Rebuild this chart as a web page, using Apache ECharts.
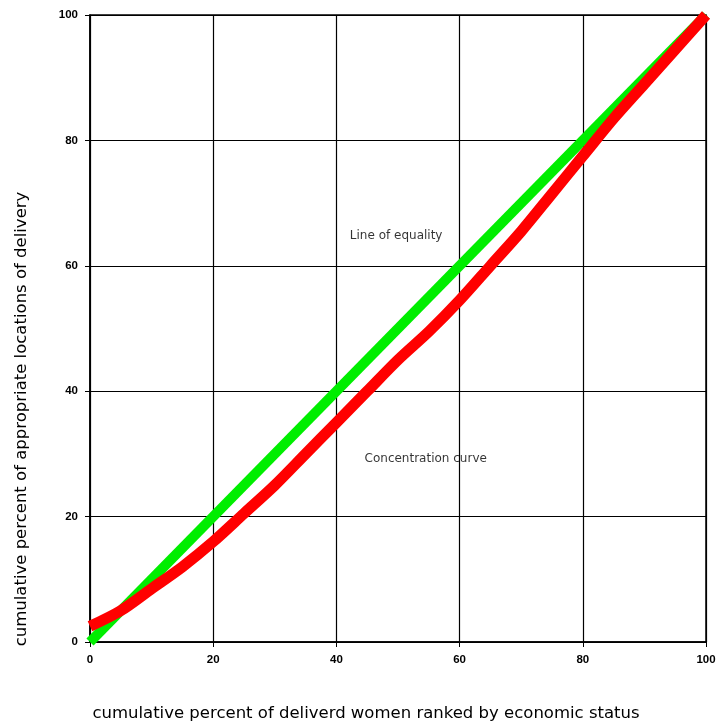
<!DOCTYPE html>
<html><head><meta charset="utf-8">
<script src="https://cdn.jsdelivr.net/npm/echarts@6/dist/echarts.min.js"></script>
<style>html,body{margin:0;padding:0;background:#fff}#c{width:725px;height:726px}</style>
</head><body><div id="c"></div>
<script>
const xTicks = [0, 20, 40, 60, 80, 100];
const equalityX = [0, 100];
const equalityY = [0, 100];
const concX = [0, 5, 10, 15, 20, 25, 30, 35, 40, 45, 50, 55, 60, 65, 70, 75, 80, 85, 90, 95, 100];
const concY = [2.5, 5, 8.5, 12, 16, 20.5, 25, 30, 35, 40, 45, 49.5, 54.5, 60, 65.5, 71.5, 77.5, 83.5, 89, 94.5, 100];
const labels = [
  {text: 'Line of equality', x: 49.7, y: 64.8},
  {text: 'Concentration curve', x: 54.5, y: 29.2}
];
const xTitle = 'cumulative percent of deliverd women ranked by economic status';
const yTitle = 'cumulative percent of appropriate locations of delivery';

const chart = echarts.init(document.getElementById('c'));
const axisCommon = {
  min: 0, max: 100, interval: 20,
  axisLine: {show: true, lineStyle: {color: '#000', width: 1.5}},
  axisTick: {show: true, length: 5, lineStyle: {color: '#000'}},
  splitLine: {show: true, lineStyle: {color: '#000', width: 1.2}},
  axisLabel: {color: '#000', fontSize: 11.5, fontFamily: 'Liberation Sans', fontWeight: 'bold'}
};
chart.setOption({
  animation: false,
  backgroundColor: '#fff',
  grid: {left: 90, right: 19, top: 15, bottom: 84, show: true, borderColor: '#000', borderWidth: 1.5},
  xAxis: Object.assign({type: 'value'}, axisCommon, {axisLabel: Object.assign({}, axisCommon.axisLabel, {margin: 12})}),
  yAxis: Object.assign({type: 'value'}, axisCommon, {axisLabel: Object.assign({}, axisCommon.axisLabel, {margin: 12})}),
  graphic: [
    {type: 'text', x: 366, y: 714, style: {text: xTitle, fill: '#000', font: '16.5px "DejaVu Sans"', align: 'center', verticalAlign: 'middle'}},
    {type: 'text', x: 22, y: 419, rotation: Math.PI / 2, style: {text: yTitle, fill: '#000', font: '16.5px "DejaVu Sans"', align: 'center', verticalAlign: 'middle'}}
  ],
  series: [
    {type: 'line', name: 'Line of equality', data: equalityX.map((x, i) => [x, equalityY[i]]),
     showSymbol: false, lineStyle: {color: '#00ee00', width: 10}, z: 3},
    {type: 'line', name: 'Concentration curve', data: concX.map((x, i) => [x, concY[i]]),
     showSymbol: false, smooth: 0.3, lineStyle: {color: '#ff0000', width: 11}, z: 4},
    {type: 'scatter', data: labels.map(l => [l.x, l.y, l.text]), symbolSize: 0,
     label: {show: true, position: 'inside', formatter: p => p.data[2], color: '#000', fontSize: 12, fontFamily: 'DejaVu Sans'}, z: 5}
  ]
});
</script></body></html>
